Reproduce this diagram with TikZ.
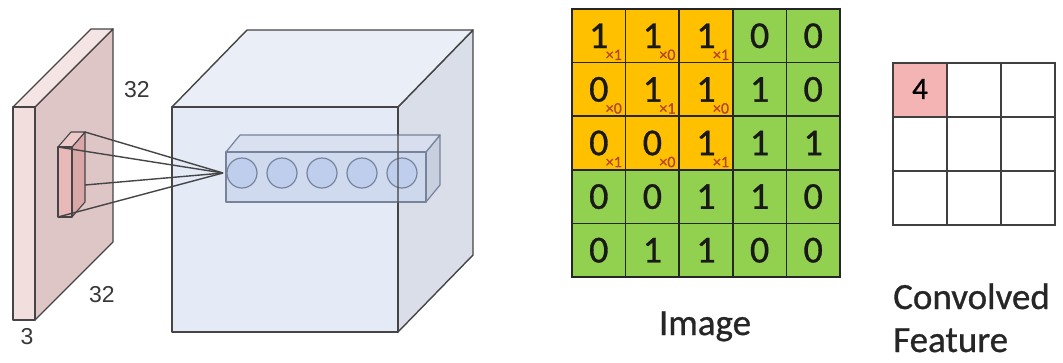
\documentclass[tikz,border=0pt]{standalone}
\usepackage{fontspec}
\setmainfont{Carlito}[FakeBold=0.8]
\newfontfamily\dimfont{Liberation Sans}
\definecolor{edgegray}{HTML}{454545}
\definecolor{slabfront}{HTML}{F3DEDE}
\definecolor{slabtop}{HTML}{F5E4E4}
\definecolor{slabside}{HTML}{DEC6C7}
\definecolor{filtfront}{HTML}{E9B9B9}
\definecolor{filttop}{HTML}{EDCACA}
\definecolor{filtside}{HTML}{D9A7A8}
\definecolor{cubefront}{HTML}{E4EAF6}
\definecolor{cubetop}{HTML}{EAEEF7}
\definecolor{cubeside}{HTML}{D9DEE9}
\definecolor{barfront}{HTML}{CCD7EE}
\definecolor{bartop}{HTML}{D8DFEF}
\definecolor{barside}{HTML}{C6CDDD}
\definecolor{baredge}{HTML}{76839B}
\definecolor{neuron}{HTML}{BDCDEC}
\definecolor{kernel}{HTML}{FFC000}
\definecolor{pixel}{HTML}{92D050}
\definecolor{weight}{HTML}{B8432C}
\definecolor{outcell}{HTML}{F4B4B4}
\definecolor{dimtext}{HTML}{383838}
\begin{document}
\begin{tikzpicture}[x=1pt,y=-1pt,
  edge/.style={draw=edgegray,line width=1.4pt,line join=round},
  baredges/.style={draw=baredge,line width=1.2pt,line join=round},
  ray/.style={draw=edgegray,line width=1.4pt},
  dimlabel/.style={font=\dimfont\fontsize{23}{23}\selectfont,text=dimtext,inner sep=0pt},
  cellbox/.style={draw=black!85,line width=1.6pt,minimum size=53.6pt,inner sep=0pt,
    text=black!90,font=\fontsize{38}{38}\selectfont},
  outbox/.style={draw=black!75,line width=1.6pt,minimum size=54pt,inner sep=0pt,
    font=\fontsize{31}{31}\selectfont},
  wlabel/.style={text=weight,inner sep=0pt,font=\fontsize{16}{16}\selectfont},
  caption/.style={inner sep=0pt,anchor=base west,text=black!85,font=\fontsize{37}{37}\selectfont}]
\useasboundingbox (0,0) rectangle (1063,362);

% ---------- input volume (32 x 32 x 3 slab) ----------
\coordinate (sFtl) at (13,107);  \coordinate (sFtr) at (35,107);
\coordinate (sFbr) at (35,320);  \coordinate (sFbl) at (13,320);
\coordinate (sBtl) at (91,29);   \coordinate (sBtr) at (113,29);
\coordinate (sBbr) at (113,242);
\filldraw[edge,fill=slabside] (sFtr) -- (sBtr) -- (sBbr) -- (sFbr) -- cycle;
\filldraw[edge,fill=slabtop] (sFtl) -- (sFtr) -- (sBtr) -- (sBtl) -- cycle;
\filldraw[edge,fill=slabfront] (sFtl) rectangle (sFbr);

% receptive field on the input
\coordinate (fFtl) at (58,147);  \coordinate (fFtr) at (72,147);
\coordinate (fFbr) at (72,217);  \coordinate (fFbl) at (58,217);
\coordinate (fBtl) at (71,132);  \coordinate (fBtr) at (85,132);
\coordinate (fBbr) at (85,202);  \coordinate (fBmid) at (85,185);
\filldraw[edge,line width=1.1pt,fill=filtside] (fFtr) -- (fBtr) -- (fBbr) -- (fFbr) -- cycle;
\filldraw[edge,line width=1.1pt,fill=filttop] (fFtl) -- (fFtr) -- (fBtr) -- (fBtl) -- cycle;
\filldraw[edge,line width=1.1pt,fill=filtfront] (fFtl) rectangle (fFbr);

\node[dimlabel] (d32a) at (137,90) {32};
\node[dimlabel] (d32b) at (102,295) {32};
\node[dimlabel] (d3) at (27,337) {3};

% ---------- output volume (cube) ----------
\coordinate (cFtl) at (172,107); \coordinate (cFtr) at (398,107);
\coordinate (cFbr) at (398,332); \coordinate (cFbl) at (172,332);
\coordinate (cBtl) at (247,30);  \coordinate (cBtr) at (473,30);
\coordinate (cBbr) at (473,255);
\filldraw[edge,fill=cubeside] (cFtr) -- (cBtr) -- (cBbr) -- (cFbr) -- cycle;
\filldraw[edge,fill=cubetop] (cFtl) -- (cFtr) -- (cBtr) -- (cBtl) -- cycle;
\filldraw[edge,fill=cubefront] (cFtl) rectangle (cFbr);

% column of neurons looking at the same region
\coordinate (bFtl) at (226,152); \coordinate (bFtr) at (426,152);
\coordinate (bFbr) at (426,202);
\coordinate (bBtl) at (240,135); \coordinate (bBtr) at (440,135);
\coordinate (bBbr) at (440,185);
\filldraw[baredges,fill=barside,fill opacity=0.85] (bFtr) -- (bBtr) -- (bBbr) -- (bFbr) -- cycle;
\filldraw[baredges,fill=bartop,fill opacity=0.85] (bFtl) -- (bFtr) -- (bBtr) -- (bBtl) -- cycle;
\filldraw[baredges,fill=barfront,fill opacity=0.8] (bFtl) rectangle (bFbr);
\foreach \x [count=\i] in {242,282,322,362,402}
  \node[circle,draw=baredge,line width=1.2pt,fill=neuron,fill opacity=0.85,
        minimum size=30pt,inner sep=0pt] (n\i) at (\x,173) {};
% front edge of the cube seen through the column
\draw[edge,draw opacity=0.6] (cFtr) -- (cFbr);

% connections from the receptive field to the first neuron
\coordinate (hub) at (223,173);
\foreach \p in {fBtr,fFtl,fBmid,fFbl}
  \draw[ray] (\p) -- (hub);

% ---------- image with sliding kernel ----------
\foreach \v [count=\k from 0] in {1,1,1,0,0, 0,1,1,1,0, 0,0,1,1,1, 0,0,1,1,0, 0,1,1,0,0}{
  \pgfmathtruncatemacro\r{\k/5}
  \pgfmathtruncatemacro\c{mod(\k,5)}
  \pgfmathtruncatemacro\inker{(\r<3)&&(\c<3)}
  \ifnum\inker=1 \def\cellfill{kernel}\else\def\cellfill{pixel}\fi
  \node[cellbox,fill=\cellfill] (img-\r-\c) at (598.8+53.6*\c,35.8+53.6*\r) {\v};
}
\foreach \w [count=\k from 0] in {1,0,1,0,1,0,1,0,1}{
  \pgfmathtruncatemacro\r{\k/3}
  \pgfmathtruncatemacro\c{mod(\k,3)}
  \node[wlabel] (w-\r-\c) at ([xshift=15pt,yshift=-19pt]img-\r-\c.center) {×\w};
}
\node[caption,anchor=base] (imgcap) at (705,335) {Image};

% ---------- convolved feature ----------
\foreach \r in {0,1,2}
  \foreach \c in {0,1,2}
    \node[outbox] (out-\r-\c) at (920+54*\c,90+54*\r) {};
\node[outbox,fill=outcell] (out-0-0) at (920,90) {\raisebox{2pt}{4}};
\node[caption] (cf1) at (893,309) {Convolved};
\node[caption] (cf2) at (893,352) {Feature};
\end{tikzpicture}
\end{document}
